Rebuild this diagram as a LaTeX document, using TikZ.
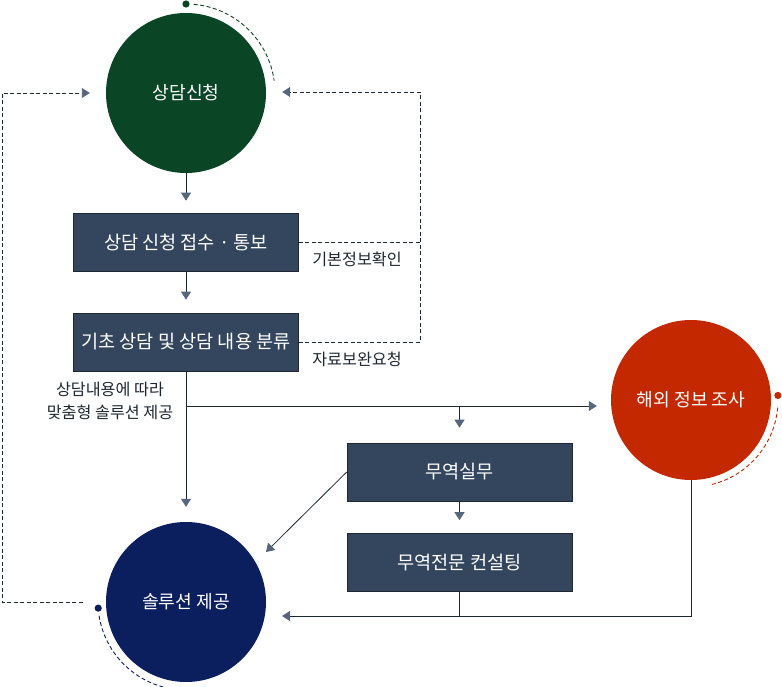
\documentclass[tikz,border=0pt]{standalone}
\usepackage{fontspec}
\setmainfont{Noto Sans CJK KR}
\usetikzlibrary{arrows.meta,calc}
\definecolor{cgreen}{HTML}{0A4526}
\definecolor{cnavy}{HTML}{0B1F5E}
\definecolor{cred}{HTML}{C42800}
\definecolor{cbox}{HTML}{33465E}
\definecolor{carrow}{HTML}{56667C}
\definecolor{cline}{HTML}{1E2630}
\begin{document}
\begin{tikzpicture}[x=1pt,y=-1pt,
  circ/.style={circle,minimum size=160pt,inner sep=0pt,text=white,font=\fontsize{18.2}{21}\selectfont},
  boxn/.style={rectangle,fill=cbox,draw=cline,line width=0.6pt,minimum width=225pt,minimum height=58pt,inner sep=0pt,text=white,font=\fontsize{18.6}{21}\selectfont},
  tip/.style={-{Triangle[width=10pt,length=8pt,fill=carrow,color=carrow]}},
  arr/.style={draw=cline,line width=0.8pt,tip},
  dsh/.style={draw=cline,line width=0.9pt,dash pattern=on 4pt off 2.5pt},
  lbl/.style={font=\fontsize{16.2}{23}\selectfont,text=cline,inner sep=0pt}
]
\useasboundingbox (0,0) rectangle (782,687);

% circles
\node[circ,fill=cgreen] (c1) at (186,93) {상담신청};
\node[circ,fill=cred] (c2) at (691,400) {해외 정보 조사};
\node[circ,fill=cnavy] (c3) at (186,602) {솔루션 제공};

% boxes
\node[boxn] (b1) at (186,242) {상담 신청 접수 · 통보};
\node[boxn] (b2) at (186,342) {기초 상담 및 상담 내용 분류};
\node[boxn] (m1) at (459.5,472) {무역실무};
\node[boxn] (m2) at (459.5,562.5) {무역전문 컨설팅};

% labels
\node[lbl] (l1) at (357,259) {기본정보확인};
\node[lbl] (l2) at (357,359) {자료보완요청};
\node[lbl,align=center] (l3) at (110,401) {상담내용에 따라\\맞춤형 솔루션 제공};

% coordinates
\coordinate (br) at (186,406);
\coordinate (rtop) at (420,92);
\coordinate (lt) at (2,93);
\coordinate (dg) at (266,552);
\coordinate (bt) at (282,616);

% main flow arrows
\draw[arr,shorten >=12pt] (c1.south) -- (b1.north);
\draw[arr,shorten >=13pt] (b1.south) -- (b2.north);
\draw[arr,shorten >=15pt] (b2.south) -- (c3.north);
\draw[arr,shorten >=14pt] (br) -- (br -| c2.west);
\draw[arr,shorten >=15pt] (br -| m1.north) -- (m1.north);
\draw[arr,shorten >=13pt] (m1.south) -- (m2.north);
\draw[arr] (m1.west) -- (dg);
\draw[arr] (c2.south) |- (bt);
\draw[draw=cline,line width=0.8pt] (m2.south) -- (m2.south |- bt);

% dashed feedback loops
\draw[dsh,tip,shorten >=16pt] (b2.east) -| (rtop) -- (c1.east |- rtop);
\draw[dsh] (b1.east) -- (b1.east -| rtop);
\draw[dsh,tip,shorten <=23pt,shorten >=16pt] (c3.west) -| (lt) -- (c1.west);

% decorative dots and arcs
\fill[cgreen] (c1.center) ++(-90:89) circle[radius=3.6];
\draw[dsh,draw=cgreen] (c1.center) ++(-85:89) arc[start angle=-85,end angle=-8,radius=89];
\fill[cred] (c2.center) ++(-3:87) circle[radius=3.6];
\draw[dsh,draw=cred] (c2.center) ++(5:87) arc[start angle=5,end angle=77,radius=87];
\fill[cnavy] (c3.center) ++(176:88) circle[radius=3.6];
\draw[dsh,draw=cnavy] (c3.center) ++(171:88) arc[start angle=171,end angle=100,radius=88];
\end{tikzpicture}
\end{document}
